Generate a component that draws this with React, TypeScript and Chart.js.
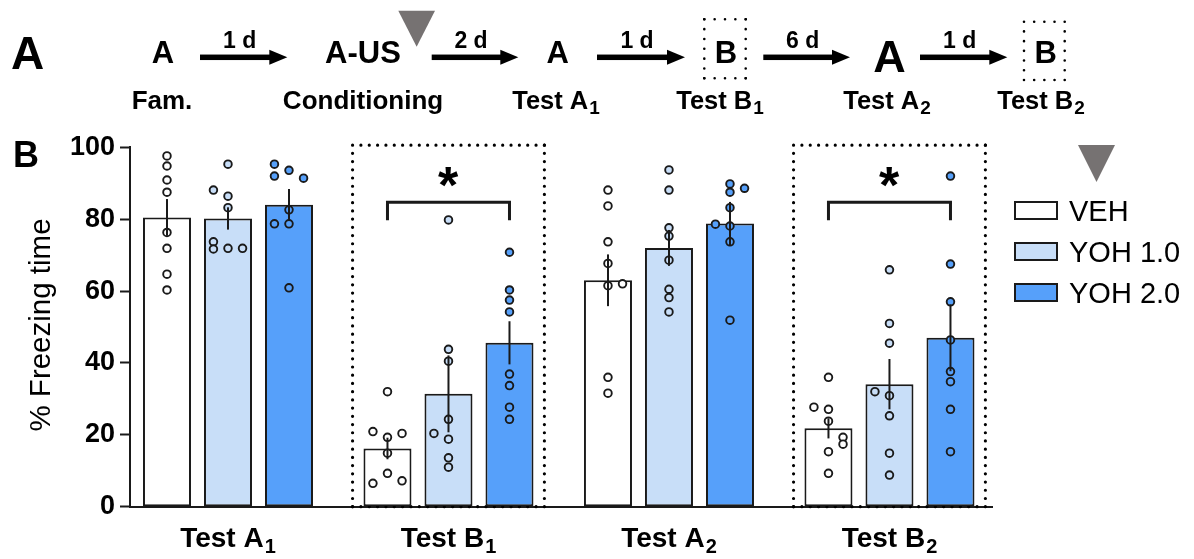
import React, { useEffect, useRef } from "react";
import { Chart, registerables } from "chart.js";

Chart.register(...registerables);

// ---------------- data ----------------
const categories = ["Test A₁", "Test B₁", "Test A₂", "Test B₂"];
const seriesNames = ["VEH", "YOH 1.0", "YOH 2.0"];

const vehMean = [80.5, 16.2, 63.0, 21.8];
const yoh1Mean = [80.2, 31.4, 72.0, 34.1];
const yoh2Mean = [84.0, 45.6, 78.8, 47.0];

const vehSem = [5.1, 3.0, 7.2, 2.8];
const yoh1Sem = [3.1, 10.7, 5.0, 7.0];
const yoh2Sem = [4.4, 6.0, 6.0, 9.3];

const vehPoints = [
  [97.6, 94.8, 90.9, 87.5, 76.3, 71.9, 64.7, 60.3],
  [32.0, 20.9, 19.3, 20.4, 14.9, 9.3, 6.5, 7.2],
  [88.1, 83.7, 73.7, 67.7, 61.5, 62.0, 36.0, 31.6],
  [36.0, 27.7, 27.1, 23.8, 19.3, 17.4, 15.3, 9.3],
];
const yoh1Points = [
  [95.3, 88.1, 86.4, 83.2, 73.7, 71.7, 71.9, 71.9],
  [79.8, 43.8, 40.5, 24.3, 20.4, 18.8, 13.6, 11.0],
  [93.7, 88.1, 77.6, 75.3, 68.6, 60.5, 58.2, 54.2],
  [65.9, 51.0, 45.5, 32.0, 30.9, 25.3, 14.9, 8.8],
];
const yoh2Points = [
  [95.3, 93.6, 92.0, 91.4, 82.6, 78.7, 78.7, 60.9],
  [70.8, 60.3, 57.5, 54.2, 36.9, 33.7, 27.7, 24.3],
  [89.8, 88.6, 87.5, 83.2, 78.6, 78.1, 73.7, 51.9],
  [92.0, 67.5, 57.0, 46.4, 37.6, 34.8, 27.1, 15.3],
];

// scatter column (-1 left, 0 centre, +1 right) of each dot
const vehJitter = [
  [0, 0, 0, 0, 0, 0, 0, 0],
  [0, -1, 0, 1, 0, 0, -1, 1],
  [0, 0, 0, 0, 0, 1, 0, 0],
  [0, -1, 0, 0, 1, 1, 0, 0],
];
const yoh1Jitter = [
  [0, -1, 0, 0, -1, -1, 0, 1],
  [0, 0, 0, 0, -1, 0, 0, 0],
  [0, 0, 0, 0, 0, 0, 0, 0],
  [0, 0, 0, -1, 0, 0, 0, 0],
];
const yoh2Jitter = [
  [-1, 0, -1, 1, 0, -1, 0, 0],
  [0, 0, 0, 0, 0, 0, 0, 0],
  [0, 1, 0, 0, -1, 0, 0, 0],
  [0, 0, 0, 0, 0, 0, 0, 0],
];

const yTicks = [0, 20, 40, 60, 80, 100];
const yTitle = "% Freezing time";

const highlightGroups = [1, 3];
const sigLabel = "*";
const bracketTop = 84.7;
const bracketLeg = 79.7;
const starValue = 91.8;

const timelineContexts = ["A", "A-US", "A", "B", "A", "B"];
const timelineSessions = ["Fam.", "Conditioning", "Test A₁", "Test B₁", "Test A₂", "Test B₂"];
const timelineIntervals = ["1 d", "2 d", "1 d", "6 d", "1 d"];

// ---------------- style ----------------
const FONT = '"Liberation Sans", Arial, Helvetica, sans-serif';
const COLORS = ["#ffffff", "#c8def8", "#56a0fa"];
const EDGE = "#1a1a1a";
const TRI = "#767272";
const CAT_PCT = 0.83;
const BAR_PCT = 0.787;
const JITTER = 0.066;

const means = [vehMean, yoh1Mean, yoh2Mean];
const sems = [vehSem, yoh1Sem, yoh2Sem];
const points = [vehPoints, yoh1Points, yoh2Points];
const jitters = [vehJitter, yoh1Jitter, yoh2Jitter];

const SUB: Record<string, string> = { "₀": "0", "₁": "1", "₂": "2", "₃": "3", "₄": "4" };

function drawSubText(ctx: CanvasRenderingContext2D, text: string, cx: number, baseline: number, size: number, subSize: number, drop: number) {
  let main = text;
  let sub = "";
  const last = text.slice(-1);
  if (SUB[last]) {
    main = text.slice(0, -1);
    sub = SUB[last];
  }
  ctx.font = `bold ${size}px ${FONT}`;
  const w1 = ctx.measureText(main).width;
  ctx.font = `bold ${subSize}px ${FONT}`;
  const w2 = sub ? ctx.measureText(sub).width + 1 : 0;
  const x0 = cx - (w1 + w2) / 2;
  ctx.textAlign = "left";
  ctx.textBaseline = "alphabetic";
  ctx.font = `bold ${size}px ${FONT}`;
  ctx.fillText(main, x0, baseline);
  if (sub) {
    ctx.font = `bold ${subSize}px ${FONT}`;
    ctx.fillText(sub, x0 + w1 + 1, baseline + drop);
  }
}

function dottedRect(ctx: CanvasRenderingContext2D, x1: number, y1: number, x2: number, y2: number, gap: number, width: number) {
  ctx.save();
  ctx.strokeStyle = "#000";
  ctx.lineWidth = width;
  ctx.lineCap = "round";
  const sides = [
    [x1, y1, x2, y1],
    [x2, y1, x2, y2],
    [x2, y2, x1, y2],
    [x1, y2, x1, y1],
  ];
  sides.forEach(([a, b, c, d]) => {
    const len = Math.hypot(c - a, d - b);
    const n = Math.max(1, Math.round(len / gap));
    ctx.setLineDash([0.001, len / n - 0.001]);
    ctx.beginPath();
    ctx.moveTo(a, b);
    ctx.lineTo(c, d);
    ctx.stroke();
  });
  ctx.restore();
}

function arrow(ctx: CanvasRenderingContext2D, x1: number, x2: number, y: number) {
  const head = 18;
  const half = 7.5;
  const shaft = 5.5;
  ctx.fillRect(x1, y - shaft / 2, x2 - head - x1 + 1, shaft);
  ctx.beginPath();
  ctx.moveTo(x2 - head, y - half);
  ctx.lineTo(x2, y);
  ctx.lineTo(x2 - head, y + half);
  ctx.closePath();
  ctx.fill();
}

function triangle(ctx: CanvasRenderingContext2D, x1: number, x2: number, top: number, tipY: number) {
  ctx.fillStyle = TRI;
  ctx.beginPath();
  ctx.moveTo(x1, top);
  ctx.lineTo(x2, top);
  ctx.lineTo((x1 + x2) / 2, tipY);
  ctx.closePath();
  ctx.fill();
}

const decorPlugin = {
  id: "decor",
  beforeDatasetsDraw(chart: any) {
    const ctx: CanvasRenderingContext2D = chart.ctx;
    const xs = chart.scales.x;
    const ys = chart.scales.y;
    highlightGroups.forEach((g) => {
      const l = xs.getPixelForValue(g + 0.5 - 0.435);
      const r = xs.getPixelForValue(g + 0.5 + 0.435);
      dottedRect(ctx, l, ys.getPixelForValue(100.6), r, ys.getPixelForValue(0), 8.2, 3.2);
    });
  },
  afterDatasetsDraw(chart: any) {
    const ctx: CanvasRenderingContext2D = chart.ctx;
    const ys = chart.scales.y;
    ctx.save();
    ctx.strokeStyle = EDGE;
    ctx.lineWidth = 2;
    ctx.lineCap = "butt";
    for (let d = 0; d < 3; d++) {
      const meta = chart.getDatasetMeta(d);
      meta.data.forEach((el: any, i: number) => {
        const m = means[d][i];
        const s = sems[d][i];
        ctx.beginPath();
        ctx.moveTo(el.x, ys.getPixelForValue(m + s));
        ctx.lineTo(el.x, ys.getPixelForValue(m - s));
        ctx.stroke();
      });
    }
    // significance brackets
    ctx.lineWidth = 3;
    ctx.lineJoin = "miter";
    highlightGroups.forEach((g) => {
      const l = chart.getDatasetMeta(0).data[g].x;
      const r = chart.getDatasetMeta(2).data[g].x;
      const yT = ys.getPixelForValue(bracketTop);
      const yL = ys.getPixelForValue(bracketLeg);
      ctx.beginPath();
      ctx.moveTo(l, yL);
      ctx.lineTo(l, yT);
      ctx.lineTo(r, yT);
      ctx.lineTo(r, yL);
      ctx.stroke();
      ctx.fillStyle = "#000";
      ctx.font = `bold 52px ${FONT}`;
      const m = ctx.measureText(sigLabel);
      const cx = (l + r) / 2;
      const cy = ys.getPixelForValue(starValue);
      const w = m.actualBoundingBoxRight + m.actualBoundingBoxLeft;
      const base = cy + (m.actualBoundingBoxAscent - m.actualBoundingBoxDescent) / 2;
      ctx.textAlign = "left";
      ctx.textBaseline = "alphabetic";
      ctx.fillText(sigLabel, cx - w / 2 + m.actualBoundingBoxLeft, base);
    });
    ctx.restore();
  },
  afterDraw(chart: any) {
    const ctx: CanvasRenderingContext2D = chart.ctx;
    const area = chart.chartArea;
    const xs = chart.scales.x;
    ctx.save();
    ctx.fillStyle = "#000";

    // y title
    ctx.save();
    ctx.translate(50, (area.top + area.bottom) / 2 - 2);
    ctx.rotate(-Math.PI / 2);
    ctx.font = `29.5px ${FONT}`;
    ctx.textAlign = "center";
    ctx.textBaseline = "alphabetic";
    ctx.fillText(yTitle, 0, 0);
    ctx.restore();

    // x category labels
    categories.forEach((c, i) => {
      drawSubText(ctx, c, xs.getPixelForValue(i + 0.5), area.bottom + 40, 28, 20, 6.5);
    });

    // legend
    triangle(ctx, 1078, 1115, 145, 182);
    ctx.fillStyle = "#000";
    seriesNames.forEach((name, k) => {
      const cy = 210.5 + k * 41;
      ctx.fillStyle = COLORS[k];
      ctx.fillRect(1014, cy - 9.5, 44, 19);
      ctx.strokeStyle = EDGE;
      ctx.lineWidth = 2;
      ctx.strokeRect(1015, cy - 8.5, 42, 17);
      ctx.fillStyle = "#000";
      ctx.font = `29px ${FONT}`;
      ctx.textAlign = "left";
      ctx.textBaseline = "alphabetic";
      ctx.fillText(name, 1069, cy + 10);
    });

    // panel letters
    ctx.fillStyle = "#000";
    ctx.textAlign = "left";
    ctx.textBaseline = "alphabetic";
    ctx.font = `bold 46px ${FONT}`;
    ctx.fillText("A", 11, 69);
    ctx.font = `bold 36px ${FONT}`;
    ctx.fillText("B", 13, 167);

    // panel A timeline
    const letterX = [163, 363, 557.7, 726, 889.5, 1045.7];
    const sessionX = [162, 363, 556, 720, 887, 1041];
    const arrows = [
      [200, 287.3],
      [431.7, 518.3],
      [597, 685],
      [763.3, 850],
      [920, 1007.3],
    ];
    timelineContexts.forEach((t, i) => {
      ctx.textAlign = "center";
      if (i === 4) {
        ctx.font = `bold 45px ${FONT}`;
        ctx.fillText(t, letterX[i], 71.7);
      } else {
        ctx.font = `bold 31px ${FONT}`;
        ctx.fillText(t, letterX[i], 63.3);
      }
    });
    timelineSessions.forEach((s, i) => {
      drawSubText(ctx, s, sessionX[i], 109, i < 2 ? 26 : 25.5, 19, 4.5);
    });
    timelineIntervals.forEach((s, i) => {
      const [a, b] = arrows[i];
      ctx.fillStyle = "#000";
      arrow(ctx, a, b, 57.3);
      ctx.font = `bold 23px ${FONT}`;
      ctx.textAlign = "center";
      ctx.fillText(s, (a + b) / 2 - 4, 48.3);
    });
    dottedRect(ctx, 704.3, 19.3, 745.7, 78.3, 10.2, 2.6);
    dottedRect(ctx, 1024, 21.7, 1064.7, 80, 10.2, 2.6);
    triangle(ctx, 398.3, 435, 10.7, 46.7);

    ctx.restore();
  },
};

export default function App() {
  const ref = useRef<HTMLCanvasElement | null>(null);

  useEffect(() => {
    document.body.style.margin = "0";
    if (!ref.current) return;
    const barSets = seriesNames.map((name, k) => ({
      type: "bar" as const,
      label: name,
      data: means[k].map((v, i) => ({ x: i + 0.5, y: v })),
      backgroundColor: COLORS[k],
      borderColor: EDGE,
      borderWidth: 2,
      borderSkipped: false,
      categoryPercentage: CAT_PCT,
      barPercentage: BAR_PCT,
      order: 3,
    }));
    const dotSets = seriesNames.map((name, k) => ({
      type: "scatter" as const,
      label: name + " individual",
      data: points[k].flatMap((arr, i) =>
        arr.map((v, j) => ({ x: i + 0.5 + ((k - 1) * CAT_PCT) / 3 + jitters[k][i][j] * JITTER, y: v }))
      ),
      pointBackgroundColor: COLORS[k],
      pointBorderColor: EDGE,
      pointBorderWidth: 1.9,
      pointRadius: 3.8,
      pointHoverRadius: 3.8,
      showLine: false,
      order: 1,
    }));

    const chart = new Chart(ref.current, {
      type: "bar",
      data: { datasets: [...barSets, ...dotSets] as any },
      options: {
        animation: false,
        responsive: true,
        maintainAspectRatio: false,
        devicePixelRatio: 1,
        layout: { padding: { top: 147.3, right: 202, bottom: 52.3, left: 0 } },
        plugins: { legend: { display: false }, tooltip: { enabled: false } },
        events: [],
        scales: {
          x: {
            type: "linear",
            offset: false,
            min: 0.0556,
            max: 3.965,
            afterBuildTicks: (axis: any) => {
              axis.ticks = categories.map((_, i) => ({ value: i + 0.5 }));
            },
            afterFit: (axis: any) => {
              axis.height = 0;
            },
            ticks: { display: false },
            grid: { display: false, offset: false },
            border: { display: true, color: EDGE, width: 2 },
          },
          y: {
            min: 0,
            max: 100,
            afterBuildTicks: (axis: any) => {
              axis.ticks = yTicks.map((v) => ({ value: v }));
            },
            afterFit: (axis: any) => {
              axis.width = 130;
            },
            ticks: {
              color: "#000",
              padding: 5,
              font: { family: FONT, size: 27, weight: "bold" },
            },
            grid: {
              display: true,
              drawOnChartArea: false,
              drawTicks: true,
              tickLength: 10,
              tickWidth: 2,
              tickColor: EDGE,
            },
            border: { display: true, color: EDGE, width: 2 },
          },
        },
      } as any,
      plugins: [decorPlugin],
    });
    return () => chart.destroy();
  }, []);

  return (
    <div style={{ position: "fixed", left: 0, top: 0, width: 1194, height: 559, background: "#fff" }}>
      <canvas ref={ref} style={{ display: "block" }} />
    </div>
  );
}
